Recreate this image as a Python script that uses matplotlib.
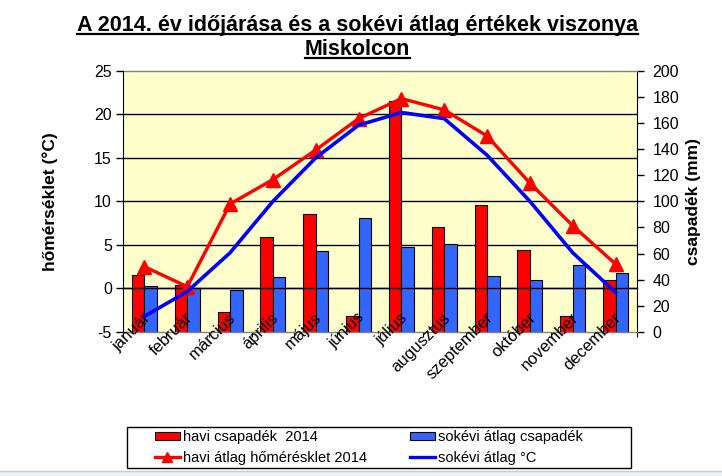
import matplotlib
matplotlib.use("Agg")
import matplotlib.pyplot as plt
import matplotlib.transforms as mtransforms
from matplotlib.lines import Line2D
from matplotlib.patches import Patch, Rectangle
import numpy as np

plt.rcParams['font.family'] = ['Liberation Sans', 'DejaVu Sans']

months = ["január", "február", "március", "április", "május", "június",
          "július", "augusztus", "szeptember", "október", "november", "december"]
rain_2014 = [44, 36, 15, 73, 90, 12, 177, 80, 97, 63, 12, 40]
rain_avg = [35, 34, 32, 42, 62, 87, 65, 67, 43, 40, 51, 45]
temp_2014 = [2.5, 0.2, 9.7, 12.5, 15.9, 19.5, 21.8, 20.5, 17.5, 12.1, 7.2, 2.8]
temp_avg = [-3.2, -0.35, 4.1, 10.0, 15.0, 18.75, 20.2, 19.5, 15.3, 10.0, 4.1, -0.45]
temp_ticks = [-5, 0, 5, 10, 15, 20, 25]
rain_ticks = [0, 20, 40, 60, 80, 100, 120, 140, 160, 180, 200]

W, H = 722, 476
fig = plt.figure(figsize=(W / 100, H / 100), dpi=100)
fig.patch.set_facecolor('white')

left, right, top, bottom = 123, 637, 70.7, 332
ax2 = fig.add_axes([left / W, 1 - bottom / H, (right - left) / W, (bottom - top) / H])
ax = ax2.twinx()
ax2.yaxis.tick_right()
ax2.yaxis.set_label_position('right')
ax.yaxis.tick_left()
ax.yaxis.set_label_position('left')

ax2.set_facecolor('#FFFFCC')
ax.patch.set_visible(False)
ax.set_zorder(ax2.get_zorder() + 1)

x = np.arange(len(months))
ax.set_xlim(-0.5, len(months) - 0.5)
ax2.set_xlim(-0.5, len(months) - 0.5)
ax.set_ylim(temp_ticks[0], temp_ticks[-1])
ax2.set_ylim(rain_ticks[0], rain_ticks[-1])

def t2r(v):
    return (v - temp_ticks[0]) * (rain_ticks[-1] - rain_ticks[0]) / (temp_ticks[-1] - temp_ticks[0]) + rain_ticks[0]
for v in temp_ticks[1:-1]:
    ax2.axhline(t2r(v), color='black', lw=1.0, zorder=0.5)

bw = 0.29
ax2.bar(x - bw / 2, rain_2014, width=bw, color='#FF0000', edgecolor='black', linewidth=0.8, zorder=2)
ax2.bar(x + bw / 2, rain_avg, width=bw, color='#3366FF', edgecolor='black', linewidth=0.8, zorder=2)

ax.plot(x, temp_2014, color='#FF0000', lw=2.4, marker='^', markersize=10,
        markeredgecolor='#FF0000', zorder=3)
ax.plot(x, temp_avg, color='#0000FF', lw=2.6, zorder=3)

for s in ['top', 'bottom']:
    ax2.spines[s].set_color('#808080')
    ax2.spines[s].set_linewidth(1.0)
ax2.spines['left'].set_visible(False)
ax2.spines['right'].set_color('black')
ax.spines['top'].set_visible(False)
ax.spines['right'].set_visible(False)
ax.spines['left'].set_color('black')
ax.spines['bottom'].set_position(('data', 0))
ax.spines['bottom'].set_color('black')
ax.spines['bottom'].set_linewidth(1.0)

ax.set_yticks(temp_ticks)
ax.set_yticklabels([str(v) for v in temp_ticks])
ax2.set_yticks(rain_ticks)
ax2.set_yticklabels([str(v) for v in rain_ticks])
ax.tick_params(axis='y', direction='out', length=5, width=1, labelsize=11.5, pad=3, colors='black')
ax2.tick_params(axis='y', direction='out', length=5, width=1, labelsize=11.5, pad=6, colors='black')

ax2.set_xticks([])
ax.set_xticks(np.arange(-0.5, len(months) + 0.5, 1.0))
ax.set_xticklabels([])
ax.tick_params(axis='x', direction='out', length=5, width=1, colors='black')

ax.set_ylabel('hőmérséklet (°C)', fontsize=12.5, fontweight='bold', labelpad=26)
ax2.set_ylabel('csapadék (mm)', fontsize=12.5, fontweight='bold', labelpad=5)

trans = mtransforms.offset_copy(mtransforms.blended_transform_factory(ax.transData, ax.transAxes),
                                fig=fig, x=-2, y=22, units='dots')
for i, m in enumerate(months):
    ax.text(i, 0, m, rotation=45, rotation_mode='anchor', ha='right', va='top',
            fontsize=12, transform=trans, zorder=5, clip_on=False)

fig.add_artist(Rectangle((127 / W, 1 - 468 / H), (631 - 127) / W, (468 - 427) / H,
                         transform=fig.transFigure, facecolor='white', edgecolor='black', lw=1.0))
handles = [Patch(facecolor='#FF0000', edgecolor='black', linewidth=0.8),
           Line2D([], [], color='#FF0000', lw=2.4, marker='^', markersize=7),
           Patch(facecolor='#3366FF', edgecolor='black', linewidth=0.8),
           Line2D([], [], color='#0000FF', lw=2.4)]
labels = ['havi csapadék  2014', 'havi átlag hőmérésklet 2014',
          'sokévi átlag csapadék', 'sokévi átlag °C']
leg = fig.legend(handles, labels, ncol=2, loc='upper left',
                 bbox_to_anchor=(155 / W, 1 - 430 / H),
                 fontsize=10.5, frameon=False,
                 handlelength=1.7, handleheight=0.5, handletextpad=0.2,
                 borderpad=0.0, labelspacing=0.45, borderaxespad=0, columnspacing=3.0)

t1 = fig.text(357.5 / W, 1 - 31 / H, 'A 2014. év időjárása és a sokévi átlag értékek viszonya',
              ha='center', va='baseline', fontsize=15.5, fontweight='bold')
t2 = fig.text(357.5 / W, 1 - 55 / H, 'Miskolcon', ha='center', va='baseline',
              fontsize=15.5, fontweight='bold')
fig.canvas.draw()
r = fig.canvas.get_renderer()
for t, base in [(t1, 31), (t2, 55)]:
    bb = t.get_window_extent(r)
    yl = 1 - (base + 2.5) / H
    fig.add_artist(Line2D([bb.x0 / W, bb.x1 / W], [yl, yl], color='black', lw=1.6,
                          transform=fig.transFigure))

fig.add_artist(Rectangle((0, 0), 1, 5 / H, transform=fig.transFigure, facecolor='#EDF2F8',
                         edgecolor='none'))
fig.add_artist(Line2D([0, 1], [5 / H, 5 / H], color='#C8CCD2', lw=1, transform=fig.transFigure))

fig.savefig('out.png', dpi=100)
